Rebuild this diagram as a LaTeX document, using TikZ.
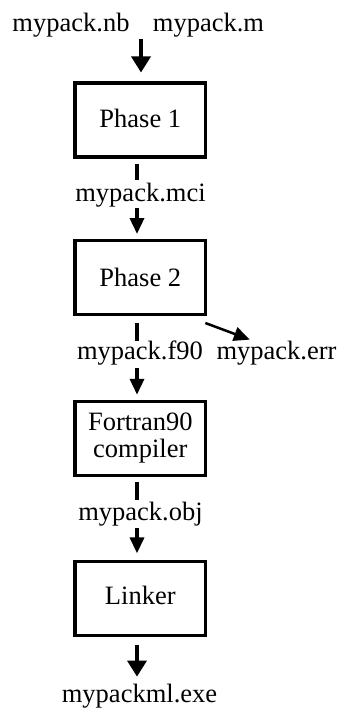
\documentclass[tikz,border=0pt]{standalone}
\usepackage{fontspec}
\setmainfont{Liberation Serif}
\usetikzlibrary{arrows.meta}
\begin{document}
\begin{tikzpicture}[x=1pt,y=-1pt,
  txt/.style={font=\fontsize{26.5}{26.5}\selectfont},
  box/.style={txt, draw, line width=3.5pt, minimum width=130.6pt, minimum height=74pt, inner sep=0pt, align=center},
  lbl/.style={txt, inner sep=0pt, anchor=base},
  seg/.style={line width=3.5pt},
  narr/.style={line width=3.5pt, -{Triangle[width=14pt,length=16pt]}},
  barr/.style={line width=3.5pt, -{Triangle[width=19pt,length=16pt]}},
  sarr/.style={line width=2.5pt, -{Triangle[width=14pt,length=16pt]}}]
\useasboundingbox (0,0) rectangle (339,709);
% nodes
\node[lbl] (nb) at (71,32) {mypack.nb};
\node[lbl] (m) at (208.5,32) {mypack.m};
\node[box, text depth=4pt] (p1) at (140.3,120) {Phase 1};
\node[lbl] (mci) at (140.5,201.7) {mypack.mci};
\node[box] (p2) at (140.3,277.5) {Phase 2};
\node[lbl] (f90) at (140,359.5) {mypack.f90};
\node[lbl] (err) at (276.5,359.5) {mypack.err};
\node[box] (fc) at (140.3,438.25) {Fortran90\\compiler};
\node[lbl] (obj) at (140.5,520) {mypack.obj};
\node[box, text depth=6pt] (lk) at (140.3,598.35) {Linker};
\node[lbl] (exe) at (139.5,702) {mypackml.exe};
% axes for connectors
\coordinate (in) at (141,39);
\coordinate (ax) at (137,0);
% connectors
\draw[barr, shorten >=8.75pt] (in) -- (p1.north -| in);
\draw[seg, shorten <=4.75pt, shorten >=3.5pt] (p1.south -| ax) -- (mci.north -| ax);
\draw[narr, shorten <=0.5pt, shorten >=4.75pt] (mci.south -| ax) -- (p2.north -| ax);
\draw[seg, shorten <=6.75pt] (p2.south -| ax) -- (f90.north -| ax);
\draw[narr, shorten <=2.75pt, shorten >=4.75pt] (f90.south -| ax) -- (fc.north -| ax);
\draw[sarr] ([shift={(-2pt,-6.75pt)}]p2.south east) -- ([shift={(33.5pt,1.3pt)}]err.north west);
\draw[seg, shorten <=5.25pt, shorten >=1.8pt] (fc.south -| ax) -- (obj.north -| ax);
\draw[narr, shorten <=2.25pt, shorten >=6.25pt] (obj.south -| ax) -- (lk.north -| ax);
\draw[barr, shorten <=7.5pt, shorten >=6.8pt] (lk.south -| ax) -- (exe.north -| ax);
\end{tikzpicture}
\end{document}
